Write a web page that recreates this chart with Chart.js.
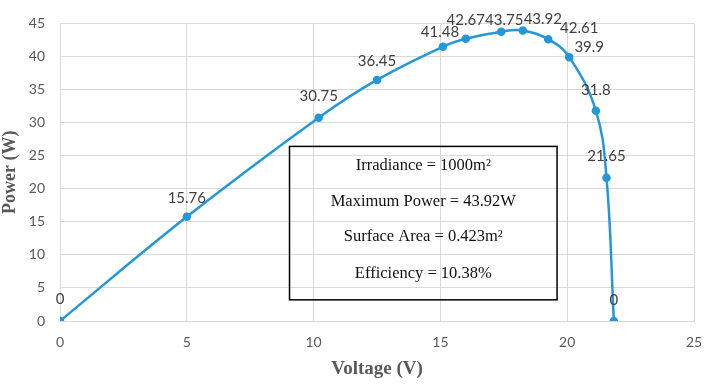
<!DOCTYPE html>
<html>
<head>
<meta charset="utf-8">
<script src="https://cdn.jsdelivr.net/npm/chart.js@4/dist/chart.umd.min.js"></script>
<style>
html,body{margin:0;padding:0;background:#fff;}
#wrap{width:706px;height:384px;position:relative;}
</style>
</head>
<body>
<div id="wrap"><canvas id="c" width="706" height="384"></canvas></div>
<script>
// Data
const voltage = [0, 5, 10.2, 12.5, 15.1, 16.0, 17.4, 18.25, 19.25, 20.08, 21.13, 21.55, 21.84];
const power   = [0, 15.76, 30.75, 36.45, 41.48, 42.67, 43.75, 43.92, 42.61, 39.9, 31.8, 21.65, 0];
const pointLabels = ['0','15.76','30.75','36.45','41.48','42.67','43.75','43.92','42.61','39.9','31.8','21.65','0'];
const xTicks = [0, 5, 10, 15, 20, 25];
const yTicks = [0, 5, 10, 15, 20, 25, 30, 35, 40, 45];
const boxLines = ['Irradiance = 1000m\u00B2', 'Maximum Power = 43.92W', 'Surface Area = 0.423m\u00B2', 'Efficiency = 10.38%'];

// label offsets (pixels) relative to each point - styling only
const labelDX = [0, 0, 0, 0, -3, 0, 3, 20, 31, 20, 0, 0, 0];
const labelDY = [-22, -19, -21, -19, -15, -19, -12, -11, -11, -10, -21, -22, -21];

const blue = '#2596d8';

const labelPlugin = {
  id: 'pointLabels',
  afterDatasetsDraw(chart) {
    const ctx = chart.ctx;
    const meta = chart.getDatasetMeta(0);
    ctx.save();
    ctx.font = '15px Lato, "Open Sans", sans-serif';
    ctx.fillStyle = '#404040';
    ctx.textAlign = 'center';
    ctx.textBaseline = 'middle';
    meta.data.forEach((pt, i) => {
      ctx.fillText(pointLabels[i], pt.x + labelDX[i], pt.y + labelDY[i]);
    });
    ctx.restore();
  }
};

const boxPlugin = {
  id: 'infoBox',
  afterDatasetsDraw(chart) {
    const xs = chart.scales.x, ys = chart.scales.y;
    const ctx = chart.ctx;
    const x0 = xs.getPixelForValue(9.05), x1 = xs.getPixelForValue(19.6);
    const y0 = ys.getPixelForValue(26.4), y1 = ys.getPixelForValue(3.2);
    ctx.save();
    ctx.strokeStyle = '#000';
    ctx.lineWidth = 1.5;
    ctx.strokeRect(x0, y0, x1 - x0, y1 - y0);
    ctx.fillStyle = '#111';
    ctx.font = '16.5px "Liberation Serif", "Times New Roman", serif';
    ctx.textAlign = 'center';
    ctx.textBaseline = 'middle';
    const h = y1 - y0;
    const fr = [0.125, 0.36, 0.59, 0.83];
    const cx = (x0 + x1) / 2;
    boxLines.forEach((t, i) => ctx.fillText(t, cx, y0 + h * fr[i]));
    ctx.restore();
  }
};

new Chart(document.getElementById('c'), {
  type: 'scatter',
  data: {
    datasets: [{
      data: voltage.map((v, i) => ({x: v, y: power[i]})),
      showLine: true,
      borderColor: blue,
      backgroundColor: blue,
      borderWidth: 2.5,
      pointRadius: 3,
      pointBackgroundColor: blue,
      pointBorderColor: blue,
      tension: 0.4
    }]
  },
  options: {
    responsive: false,
    animation: false,
    layout: {padding: {left: 0, right: 12, top: 19, bottom: 0}},
    plugins: {legend: {display: false}, tooltip: {enabled: false}},
    scales: {
      x: {
        type: 'linear', min: 0, max: 25,
        afterBuildTicks(s) { s.ticks = xTicks.map(v => ({value: v})); },
        afterFit(s) { s.height = 63; s.paddingRight = 0; },
        grid: {color: '#d9d9d9', lineWidth: 1, drawTicks: false},
        border: {color: '#d9d9d9'},
        ticks: {color: '#595959', font: {family: 'Lato, "Open Sans", sans-serif', size: 14}, padding: 13, maxRotation: 0},
        title: {display: true, text: 'Voltage (V)', color: '#595959', font: {family: '"Liberation Serif", serif', size: 19, weight: 'bold'}, padding: {top: 1}}
      },
      y: {
        type: 'linear', min: 0, max: 45,
        afterBuildTicks(s) { s.ticks = yTicks.map(v => ({value: v})); },
        afterFit(s) { s.width = 60; },
        grid: {color: '#d9d9d9', lineWidth: 1, drawTicks: false},
        border: {color: '#d9d9d9'},
        ticks: {color: '#595959', font: {family: 'Lato, "Open Sans", sans-serif', size: 14}, padding: 15},
        title: {display: true, text: 'Power (W)', color: '#595959', font: {family: '"Liberation Serif", serif', size: 18, weight: 'bold'}, padding: {top: 0, bottom: 0}}
      }
    }
  },
  plugins: [labelPlugin, boxPlugin]
});
</script>
</body>
</html>
